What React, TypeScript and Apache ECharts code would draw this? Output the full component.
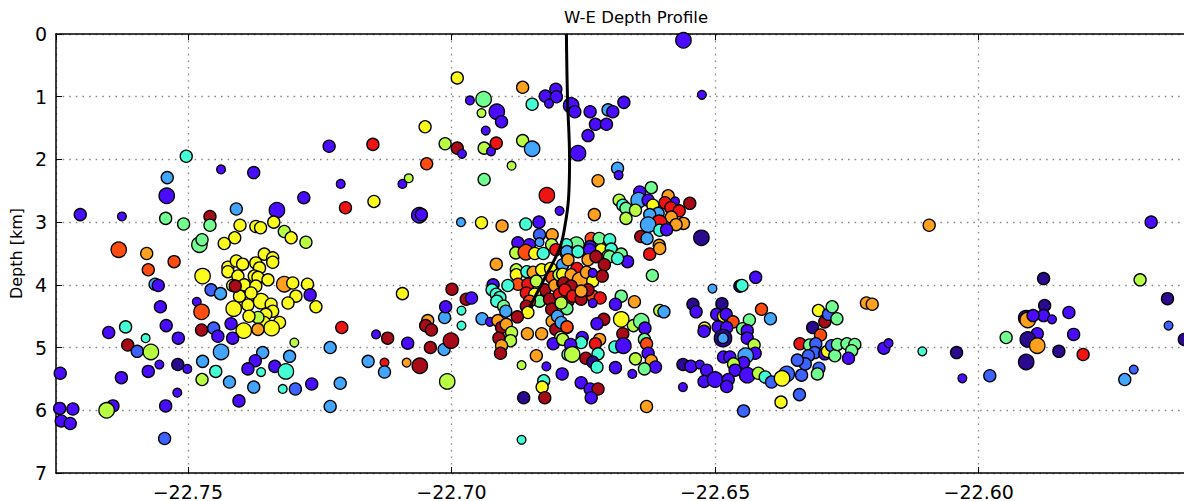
import React, { useEffect, useRef } from 'react';
import * as echarts from 'echarts';

// Axis extents (longitude in degrees, depth in km)
const LON_MIN = -22.775;
const LON_MAX = -22.555;
const DEPTH_MIN = 0;
const DEPTH_MAX = 7;
const DEPTH_TICKS = [0, 1, 2, 3, 4, 5, 6, 7];

const TITLE = 'W-E Depth Profile';
const Y_NAME = 'Depth [km]';

// time-bin colours (jet-like, early = blue, late = dark red)
const timeColors = [
  '#2a0a8e', '#4a0cff', '#3c62ff', '#42a6ff', '#42ffd6', '#72ff92',
  '#b9ff42', '#fbfb1c', '#ffa01e', '#ff4c10', '#ee1414', '#a80a18',
];

// [longitude, depth km, magnitude class, time bin]
const westEvents: number[][] = [
  [-22.7503, 1.95, 2, 4], [-22.7539, 2.29, 2, 3], [-22.7540, 2.58, 3, 1], [-22.7704, 2.88, 2, 1],
  [-22.7625, 2.91, 1, 1], [-22.7542, 2.94, 2, 5], [-22.7508, 3.03, 2, 5], [-22.7631, 3.44, 3, 9],
  [-22.7578, 3.50, 2, 8], [-22.7526, 3.63, 2, 9], [-22.7575, 3.76, 2, 9], [-22.7562, 3.99, 2, 3],
  [-22.7556, 4.01, 2, 1], [-22.7483, 4.27, 1, 1], [-22.7474, 4.43, 3, 9], [-22.7552, 4.35, 2, 1],
  [-22.7650, 4.76, 2, 1], [-22.7618, 4.67, 2, 4], [-22.7541, 4.65, 2, 1], [-22.7580, 4.85, 1, 4],
  [-22.7518, 4.85, 2, 1], [-22.7474, 4.72, 2, 11], [-22.7614, 4.96, 2, 11], [-22.7596, 5.06, 2, 2],
  [-22.7570, 5.07, 3, 6], [-22.7554, 5.27, 1, 1], [-22.7519, 5.27, 2, 0], [-22.7501, 5.34, 1, 1],
  [-22.7575, 5.38, 2, 1], [-22.7626, 5.48, 2, 1], [-22.7742, 5.41, 2, 1], [-22.7472, 5.22, 2, 3],
  [-22.7473, 5.51, 2, 6], [-22.7520, 5.72, 1, 1], [-22.7542, 5.93, 2, 1], [-22.7642, 5.93, 2, 1],
  [-22.7654, 6.00, 3, 6], [-22.7743, 5.97, 2, 1], [-22.7718, 5.98, 2, 1], [-22.7740, 6.17, 2, 1],
  [-22.7723, 6.21, 2, 1], [-22.7544, 6.45, 2, 2], [-22.7478, 3.36, 3, 5], [-22.7473, 3.28, 2, 5],
];

const yellowCluster: number[][] = [
  [-22.7437, 2.16, 1, 1], [-22.7375, 2.21, 2, 1], [-22.7458, 2.91, 2, 11], [-22.7458, 3.05, 2, 5],
  [-22.7408, 2.79, 2, 3], [-22.7401, 3.05, 2, 7], [-22.7411, 3.25, 2, 7], [-22.7431, 3.34, 2, 7],
  [-22.7331, 2.81, 3, 1], [-22.7371, 3.07, 2, 7], [-22.7362, 3.09, 2, 7], [-22.7337, 3.00, 2, 7],
  [-22.7317, 3.15, 2, 6], [-22.7304, 3.25, 2, 7], [-22.7276, 3.32, 2, 6], [-22.7355, 3.51, 2, 7],
  [-22.7339, 3.57, 2, 7], [-22.7424, 3.72, 2, 7], [-22.7408, 3.62, 2, 7], [-22.7396, 3.67, 2, 7],
  [-22.7424, 3.79, 2, 7], [-22.7405, 3.86, 2, 7], [-22.7393, 4.00, 2, 7], [-22.7415, 4.01, 2, 7],
  [-22.7386, 4.32, 2, 7], [-22.7402, 4.18, 2, 7], [-22.7413, 4.38, 3, 7], [-22.7339, 3.64, 2, 7],
  [-22.7371, 3.65, 2, 7], [-22.7364, 3.73, 2, 7], [-22.7374, 3.86, 2, 7], [-22.7367, 3.88, 2, 7],
  [-22.7371, 4.02, 2, 7], [-22.7348, 3.92, 2, 7], [-22.7317, 3.99, 3, 8], [-22.7301, 3.97, 2, 7],
  [-22.7273, 3.99, 2, 7], [-22.7268, 4.16, 2, 1], [-22.7295, 4.18, 2, 7], [-22.7310, 4.29, 2, 7],
  [-22.7257, 4.35, 2, 7], [-22.7361, 4.26, 3, 7], [-22.7342, 4.31, 2, 7], [-22.7339, 4.42, 2, 7],
  [-22.7352, 4.47, 2, 7], [-22.7355, 4.60, 2, 7], [-22.7326, 4.60, 2, 7], [-22.7341, 4.69, 3, 7],
  [-22.7367, 4.52, 2, 6], [-22.7367, 4.71, 2, 8], [-22.7394, 4.73, 3, 7], [-22.7472, 3.86, 3, 7],
  [-22.7456, 4.08, 2, 2], [-22.7438, 4.14, 2, 3], [-22.7410, 4.02, 2, 11], [-22.7380, 4.13, 2, 7],
  [-22.7384, 4.50, 2, 7], [-22.7451, 4.69, 2, 2], [-22.7443, 4.82, 2, 1], [-22.7418, 4.62, 2, 1],
  [-22.7415, 4.85, 2, 1], [-22.7298, 4.92, 1, 6], [-22.7358, 5.08, 2, 3], [-22.7372, 5.21, 2, 1],
  [-22.7307, 5.14, 2, 3], [-22.7335, 5.30, 2, 1], [-22.7314, 5.38, 3, 4], [-22.7361, 5.39, 1, 4],
  [-22.7375, 5.63, 2, 3], [-22.7320, 5.66, 1, 4], [-22.7296, 5.66, 2, 2], [-22.7265, 5.58, 2, 1],
  [-22.7437, 5.07, 3, 3], [-22.7447, 5.38, 2, 4], [-22.7421, 5.55, 2, 3], [-22.7386, 5.34, 2, 1],
  [-22.7403, 5.85, 2, 1],
];

const middleEvents: number[][] = [
  [-22.7211, 5.57, 2, 3], [-22.7230, 5.00, 2, 3], [-22.7208, 4.68, 2, 10], [-22.7230, 5.94, 2, 3],
  [-22.7093, 4.14, 2, 7], [-22.7143, 4.79, 1, 1], [-22.7121, 4.85, 2, 11], [-22.7083, 4.93, 2, 1],
  [-22.7158, 5.22, 2, 3], [-22.7127, 5.24, 1, 10], [-22.7127, 5.39, 2, 3], [-22.7085, 5.24, 1, 8],
  [-22.7060, 5.29, 3, 11], [-22.7045, 4.57, 2, 8], [-22.7049, 4.65, 2, 11], [-22.7038, 4.72, 2, 11],
  [-22.7040, 5.00, 2, 11], [-22.7014, 5.03, 2, 3], [-22.7013, 4.52, 2, 3], [-22.7011, 4.35, 2, 1],
  [-22.6999, 4.07, 2, 11], [-22.6972, 4.23, 2, 11], [-22.6962, 4.21, 2, 1], [-22.6981, 4.41, 1, 4],
  [-22.6981, 4.65, 1, 4], [-22.7001, 4.89, 3, 11], [-22.7008, 5.54, 3, 6], [-22.7232, 1.79, 2, 1],
  [-22.7149, 1.76, 2, 10], [-22.7050, 1.48, 2, 7], [-22.7210, 2.39, 1, 1], [-22.7093, 2.39, 1, 1],
  [-22.7081, 2.30, 1, 6], [-22.7280, 2.61, 2, 1], [-22.7201, 2.77, 2, 10], [-22.7147, 2.67, 2, 7],
  [-22.7061, 2.89, 3, 1], [-22.7047, 2.07, 2, 9], [-22.7057, 2.88, 2, 1],
];

const shallowEvents: number[][] = [
  [-22.6989, 0.70, 2, 7], [-22.6865, 0.85, 2, 8], [-22.6802, 0.88, 2, 1], [-22.6822, 0.99, 2, 1],
  [-22.6801, 1.00, 2, 1], [-22.6815, 1.11, 1, 1], [-22.6847, 1.12, 2, 4], [-22.6965, 1.06, 1, 1],
  [-22.6939, 1.04, 3, 5], [-22.6914, 1.24, 3, 1], [-22.6905, 1.40, 2, 1], [-22.6943, 1.26, 1, 6],
  [-22.6935, 1.54, 1, 1], [-22.7012, 1.75, 2, 6], [-22.6989, 1.82, 2, 11], [-22.6980, 1.91, 1, 1],
  [-22.6938, 1.82, 2, 6], [-22.6925, 1.87, 1, 1], [-22.6915, 1.74, 2, 10], [-22.6865, 1.70, 2, 6],
  [-22.6847, 1.83, 3, 3], [-22.6886, 2.10, 1, 6], [-22.6938, 2.32, 2, 5], [-22.6819, 2.57, 3, 10],
  [-22.6795, 2.82, 1, 1], [-22.6982, 3.00, 1, 3], [-22.6943, 3.01, 2, 7], [-22.6904, 3.06, 2, 8],
  [-22.6859, 3.03, 2, 4], [-22.6834, 3.00, 2, 1], [-22.6833, 3.20, 2, 2], [-22.6809, 3.20, 2, 8],
  [-22.6874, 3.33, 2, 1], [-22.6852, 3.36, 2, 1], [-22.6833, 3.32, 1, 3], [-22.6810, 3.36, 2, 6],
  [-22.6560, 0.10, 3, 1], [-22.6525, 0.97, 1, 1], [-22.6773, 1.14, 3, 1], [-22.6766, 1.24, 2, 1],
  [-22.6737, 1.24, 2, 1], [-22.6703, 1.21, 2, 3], [-22.6694, 1.24, 2, 1], [-22.6673, 1.09, 2, 1],
  [-22.6727, 1.44, 2, 1], [-22.6706, 1.44, 2, 1], [-22.6741, 1.62, 2, 1], [-22.6760, 1.90, 3, 1],
  [-22.6685, 2.14, 2, 3], [-22.6683, 2.25, 1, 1], [-22.6722, 2.34, 2, 8], [-22.6729, 2.88, 2, 8],
];

const eastShallowCluster: number[][] = [
  [-22.6621, 2.45, 2, 5], [-22.6643, 2.52, 2, 1], [-22.6682, 2.65, 2, 6], [-22.6675, 2.73, 2, 4],
  [-22.6669, 2.78, 2, 5], [-22.6645, 2.65, 3, 3], [-22.6651, 2.81, 2, 6], [-22.6669, 2.94, 2, 6],
  [-22.6627, 2.65, 2, 1], [-22.6618, 2.73, 2, 7], [-22.6589, 2.58, 2, 8], [-22.6595, 2.69, 2, 10],
  [-22.6576, 2.67, 1, 1], [-22.6584, 2.77, 2, 10], [-22.6568, 2.82, 2, 10], [-22.6548, 2.70, 2, 11],
  [-22.6608, 2.86, 2, 3], [-22.6624, 2.88, 2, 3], [-22.6583, 2.92, 2, 8], [-22.6560, 3.02, 2, 8],
  [-22.6574, 3.04, 2, 8], [-22.6606, 3.01, 3, 10], [-22.6627, 3.04, 3, 3], [-22.6605, 3.13, 2, 4],
  [-22.6592, 3.12, 2, 1], [-22.6526, 3.25, 3, 0], [-22.6641, 3.23, 2, 11], [-22.6629, 3.26, 2, 3],
  [-22.6606, 3.37, 2, 8], [-22.6624, 3.51, 2, 10], [-22.6605, 3.42, 2, 8],
];

const wellCluster: number[][] = [
  [-22.6735, 3.26, 2, 9], [-22.6720, 3.26, 2, 5], [-22.6700, 3.28, 2, 4], [-22.6737, 3.39, 2, 1],
  [-22.6716, 3.44, 2, 7], [-22.6697, 3.43, 2, 4], [-22.6678, 3.51, 2, 5], [-22.6763, 3.36, 3, 5],
  [-22.6782, 3.36, 2, 4], [-22.6777, 3.49, 2, 2], [-22.6729, 3.54, 2, 11], [-22.6703, 3.54, 2, 7],
  [-22.6666, 3.63, 2, 1], [-22.6619, 3.85, 2, 5], [-22.6700, 3.55, 2, 5], [-22.6685, 3.58, 2, 4],
  [-22.6878, 3.49, 2, 6], [-22.6859, 3.48, 3, 9], [-22.6842, 3.50, 2, 7], [-22.6826, 3.50, 2, 4],
  [-22.6802, 3.44, 2, 10], [-22.6915, 3.67, 2, 8], [-22.6877, 3.76, 2, 6], [-22.6877, 3.84, 2, 7],
  [-22.6857, 3.79, 2, 4], [-22.6845, 3.80, 2, 8], [-22.6829, 3.76, 2, 7], [-22.6812, 3.74, 2, 7],
  [-22.6789, 3.68, 2, 3], [-22.6782, 3.50, 2, 3], [-22.6874, 3.99, 2, 9], [-22.6855, 3.99, 2, 10],
  [-22.6893, 4.01, 2, 4], [-22.6839, 3.94, 2, 6], [-22.6823, 4.08, 2, 11], [-22.6810, 3.88, 2, 9],
  [-22.6804, 4.01, 2, 8], [-22.6789, 3.97, 2, 11], [-22.6796, 3.84, 2, 6], [-22.6858, 4.13, 2, 10],
  [-22.6842, 4.15, 2, 7], [-22.6833, 4.26, 2, 5], [-22.6814, 4.23, 2, 11], [-22.6810, 4.39, 2, 11],
  [-22.6789, 4.34, 2, 6], [-22.6779, 4.26, 2, 11], [-22.6795, 4.15, 2, 10], [-22.6852, 4.26, 2, 9],
  [-22.6858, 4.34, 2, 11], [-22.6855, 4.44, 2, 7], [-22.6809, 4.58, 2, 8], [-22.6802, 4.71, 2, 11],
  [-22.6781, 4.68, 2, 10], [-22.6793, 4.84, 2, 6], [-22.6807, 4.94, 2, 1], [-22.6779, 5.11, 2, 5],
  [-22.6799, 4.50, 2, 3], [-22.6921, 4.00, 2, 1], [-22.6923, 4.08, 2, 4], [-22.6915, 4.15, 2, 4],
  [-22.6908, 4.20, 2, 4], [-22.6914, 4.26, 2, 4], [-22.6901, 4.34, 2, 5], [-22.6897, 4.42, 2, 3],
  [-22.6875, 4.51, 2, 11], [-22.6856, 4.78, 2, 8], [-22.6829, 4.78, 2, 8], [-22.6839, 5.13, 2, 8],
  [-22.6867, 5.28, 1, 6], [-22.6820, 5.30, 1, 1], [-22.6825, 5.53, 2, 4], [-22.6828, 5.63, 2, 7],
  [-22.6823, 5.80, 2, 11], [-22.6863, 5.80, 2, 0], [-22.6867, 6.47, 1, 4], [-22.6942, 4.54, 2, 3],
  [-22.6927, 4.59, 1, 1], [-22.6912, 4.57, 2, 8], [-22.6905, 4.68, 2, 11], [-22.6896, 4.63, 2, 8],
  [-22.6886, 4.76, 2, 6], [-22.6888, 4.89, 2, 6], [-22.6910, 4.85, 2, 11], [-22.6905, 4.97, 2, 8],
  [-22.6907, 5.09, 2, 11],
  [-22.6781, 3.47, 2, 3], [-22.6760, 3.47, 2, 4], [-22.6738, 3.44, 2, 1], [-22.6779, 3.60, 2, 8],
  [-22.6762, 3.74, 2, 10], [-22.6741, 3.60, 2, 8], [-22.6726, 3.55, 2, 11], [-22.6710, 3.68, 2, 11],
  [-22.6789, 3.83, 2, 7], [-22.6773, 3.84, 2, 8], [-22.6756, 3.92, 3, 8], [-22.6744, 3.80, 2, 8],
  [-22.6732, 3.94, 2, 7], [-22.6714, 3.86, 2, 11], [-22.6732, 3.81, 1, 1], [-22.6787, 3.97, 2, 11],
  [-22.6773, 4.02, 2, 11], [-22.6785, 4.08, 2, 10], [-22.6770, 4.18, 2, 10], [-22.6754, 4.23, 2, 11],
  [-22.6732, 4.18, 2, 9], [-22.6718, 4.21, 2, 10], [-22.6741, 4.08, 2, 11], [-22.6754, 4.10, 2, 8],
  [-22.6732, 4.29, 1, 1], [-22.6781, 4.38, 2, 5], [-22.6792, 4.29, 2, 6], [-22.6792, 4.60, 2, 3],
  [-22.6781, 4.67, 2, 9], [-22.6789, 4.87, 2, 6],
];

const wellDeepEvents: number[][] = [
  [-22.6678, 4.18, 2, 5], [-22.6689, 4.31, 2, 1], [-22.6653, 4.27, 2, 8], [-22.6605, 4.41, 2, 6],
  [-22.6597, 4.43, 2, 3], [-22.6678, 4.55, 3, 7], [-22.6655, 4.65, 2, 6], [-22.6640, 4.58, 3, 5],
  [-22.6633, 4.69, 2, 1], [-22.6711, 4.55, 2, 11], [-22.6724, 4.62, 2, 1], [-22.6675, 4.78, 2, 11],
  [-22.6719, 4.87, 2, 8], [-22.6727, 4.94, 2, 10], [-22.6752, 4.84, 2, 1], [-22.6754, 4.92, 2, 4],
  [-22.6774, 4.95, 2, 1], [-22.6690, 4.99, 2, 4], [-22.6674, 4.97, 3, 1], [-22.6634, 4.87, 2, 5],
  [-22.6630, 4.94, 2, 9], [-22.6627, 5.09, 2, 1], [-22.6621, 5.21, 2, 8], [-22.6613, 5.31, 2, 1],
  [-22.6634, 5.34, 2, 5], [-22.6651, 5.18, 2, 6], [-22.6657, 5.42, 1, 1], [-22.6689, 5.32, 2, 1],
  [-22.6771, 5.11, 3, 6], [-22.6745, 5.17, 2, 11], [-22.6722, 5.10, 2, 4], [-22.6732, 5.23, 2, 0],
  [-22.6724, 5.31, 2, 4], [-22.6790, 5.42, 2, 1], [-22.6754, 5.56, 2, 1], [-22.6737, 5.66, 2, 1],
  [-22.6722, 5.66, 2, 11], [-22.6735, 5.80, 2, 1], [-22.6630, 5.94, 2, 8], [-22.6561, 5.27, 2, 0],
  [-22.6546, 5.30, 2, 1], [-22.6529, 5.27, 1, 1], [-22.6516, 5.36, 2, 1], [-22.6561, 5.63, 1, 1],
  [-22.6521, 5.54, 2, 1], [-22.6500, 5.51, 3, 1], [-22.6505, 4.06, 1, 3], [-22.6542, 4.31, 2, 0],
  [-22.6536, 4.43, 2, 1], [-22.6520, 4.69, 2, 7], [-22.6521, 4.74, 2, 1],
];

const eastEvents: number[][] = [
  [-22.6453, 4.02, 2, 0], [-22.6449, 4.01, 2, 4], [-22.6423, 3.88, 2, 1], [-22.6487, 4.30, 2, 0],
  [-22.6497, 4.47, 2, 1], [-22.6484, 4.50, 2, 7], [-22.6479, 4.47, 2, 1], [-22.6466, 4.59, 2, 9],
  [-22.6435, 4.56, 2, 5], [-22.6412, 4.39, 2, 9], [-22.6395, 4.54, 2, 3], [-22.6494, 4.67, 2, 1],
  [-22.6478, 4.68, 2, 1], [-22.6448, 4.70, 2, 5], [-22.6439, 4.73, 2, 1], [-22.6439, 4.85, 2, 1],
  [-22.6485, 4.85, 3.6, 0], [-22.6485, 4.85, 1.5, 3], [-22.6426, 4.96, 2, 6], [-22.6424, 5.09, 2, 1],
  [-22.6442, 5.13, 3, 3], [-22.6484, 5.15, 2, 1], [-22.6472, 5.15, 2, 1], [-22.6446, 5.24, 2, 1],
  [-22.6465, 5.26, 2, 6], [-22.6462, 5.36, 2, 1], [-22.6475, 5.51, 2, 1], [-22.6478, 5.62, 2, 1],
  [-22.6439, 5.44, 3, 1], [-22.6418, 5.41, 2, 6], [-22.6405, 5.47, 2, 4], [-22.6393, 5.55, 2, 2],
  [-22.6364, 5.42, 3, 2], [-22.6373, 5.49, 3, 7], [-22.6375, 5.87, 2, 7], [-22.6340, 5.75, 2, 2],
  [-22.6446, 6.01, 2, 2], [-22.6336, 5.44, 2, 2], [-22.6315, 4.68, 2, 0], [-22.6292, 4.59, 2, 11],
  [-22.6300, 4.80, 2, 9], [-22.6304, 4.41, 2, 7], [-22.6285, 4.47, 2, 2], [-22.6278, 4.35, 2, 5],
  [-22.6269, 4.54, 2, 5], [-22.6339, 4.94, 2, 10], [-22.6321, 4.96, 2, 5], [-22.6309, 4.94, 2, 2],
  [-22.6311, 5.08, 2, 2], [-22.6323, 5.13, 2, 2], [-22.6329, 5.26, 2, 2], [-22.6344, 5.20, 2, 2],
  [-22.6292, 5.10, 2, 1], [-22.6287, 5.06, 2, 7], [-22.6279, 4.97, 2, 2], [-22.6273, 5.13, 2, 5],
  [-22.6268, 4.95, 2, 5], [-22.6250, 4.94, 2, 5], [-22.6235, 4.95, 2, 5], [-22.6241, 5.05, 2, 5],
  [-22.6247, 5.17, 2, 1], [-22.6303, 5.33, 2, 2], [-22.6306, 5.42, 2, 5], [-22.6213, 4.29, 2, 8],
  [-22.6202, 4.31, 2, 8], [-22.6180, 5.01, 2, 1], [-22.6171, 4.93, 1, 1], [-22.6107, 5.06, 1, 4],
  [-22.6094, 3.05, 2, 8],
];

const farEastEvents: number[][] = [
  [-22.5877, 3.90, 2, 0], [-22.5694, 3.92, 2, 6], [-22.5642, 4.22, 2, 0], [-22.5640, 4.65, 1, 2],
  [-22.5610, 4.87, 2, 0], [-22.5875, 4.33, 2, 0], [-22.5877, 4.49, 2, 1], [-22.5861, 4.55, 1, 1],
  [-22.5829, 4.44, 2, 1], [-22.5910, 4.53, 3, 0], [-22.5907, 4.56, 3, 8], [-22.5897, 4.49, 2, 1],
  [-22.5889, 4.78, 2, 1], [-22.5907, 4.87, 3, 0], [-22.5889, 4.97, 3, 8], [-22.5948, 4.84, 2, 5],
  [-22.5820, 4.79, 2, 1], [-22.5848, 5.06, 2, 0], [-22.5802, 5.11, 2, 10], [-22.5910, 5.23, 3, 0],
  [-22.6042, 5.08, 2, 0], [-22.6031, 5.49, 1, 1], [-22.5979, 5.45, 2, 2], [-22.5706, 5.35, 1, 2],
  [-22.5723, 5.51, 2, 3], [-22.5673, 3.00, 2, 1],
];

// well trajectory [longitude, depth km]
const wellTrack: number[][] = [
  [-22.6782, 0.0], [-22.6780, 1.0], [-22.6776, 2.01], [-22.6778, 2.63],
  [-22.6785, 3.07], [-22.6795, 3.42], [-22.6823, 3.89], [-22.6852, 4.36],
];

const fmtLon = (v: number) => v.toFixed(2).replace('-', '\u2212');

export default function App() {
  const ref = useRef<HTMLDivElement>(null);
  useEffect(() => {
    if (!ref.current) return;
    const chart = echarts.init(ref.current, null, { renderer: 'svg' });
    const events = [
      ...westEvents, ...yellowCluster, ...middleEvents, ...shallowEvents,
      ...eastShallowCluster, ...wellCluster, ...wellDeepEvents, ...eastEvents, ...farEastEvents,
    ];
    const font = 'DejaVu Sans';
    chart.setOption({
      animation: false,
      backgroundColor: '#ffffff',
      textStyle: { fontFamily: font },
      graphic: [
        {
          type: 'text', x: 636, y: 9,
          style: { text: TITLE, textAlign: 'center', fontSize: 16.5, fill: '#000', fontFamily: font },
        },
      ],
      grid: { left: 55, right: 24, top: 34, bottom: 24, containLabel: false },
      xAxis: [
        {
          type: 'value', min: LON_MIN, max: LON_MAX, splitNumber: 5,
          axisLine: { show: true, onZero: false, lineStyle: { color: '#000', width: 1.5 } },
          axisTick: { show: true, inside: true, length: 6, lineStyle: { color: '#000' } },
          axisLabel: {
            formatter: fmtLon, showMinLabel: false, showMaxLabel: false,
            fontSize: 19, color: '#000', margin: 9, fontFamily: font,
          },
          splitLine: { show: true, lineStyle: { color: '#8a8a8a', type: [1.6, 5], width: 1.3 } },
        },
        {
          type: 'value', position: 'top', min: LON_MIN, max: LON_MAX, splitNumber: 5,
          axisLine: { show: true, onZero: false, lineStyle: { color: '#000', width: 1.5 } },
          axisTick: { show: true, inside: true, length: 6, lineStyle: { color: '#000' } },
          axisLabel: { show: false },
          splitLine: { show: false },
        },
      ],
      yAxis: {
        type: 'value', inverse: true, min: DEPTH_MIN, max: DEPTH_MAX, interval: 1,
        name: Y_NAME, nameLocation: 'middle', nameGap: 32, nameRotate: 90,
        nameTextStyle: { fontSize: 16, color: '#000', fontFamily: font },
        axisLine: { show: true, onZero: false, lineStyle: { color: '#000', width: 1.5 } },
        axisTick: { show: true, inside: true, length: 6, lineStyle: { color: '#000' } },
        axisLabel: {
          fontSize: 19, color: '#000', margin: 9, fontFamily: font,
          formatter: (v: number) => (DEPTH_TICKS.includes(v) ? String(v) : ''),
        },
        splitLine: { show: true, lineStyle: { color: '#8a8a8a', type: [1.6, 5], width: 1.3 } },
      },
      series: [
        {
          type: 'scatter',
          data: events,
          encode: { x: 0, y: 1 },
          symbolSize: (v: number[]) => 5.5 + v[2] * 3.3,
          itemStyle: {
            color: (p: any) => timeColors[p.value[3]],
            borderColor: '#000', borderWidth: 1.3, opacity: 1,
          },
          z: 2,
        },
        {
          type: 'line',
          data: wellTrack,
          showSymbol: false,
          smooth: 0.4,
          lineStyle: { color: '#000', width: 3 },
          z: 3,
        },
      ],
    });
    return () => chart.dispose();
  }, []);
  return (
    <div style={{ position: 'fixed', left: 0, top: 0, width: 1184, height: 501, overflow: 'hidden', background: '#fff' }}>
      <div ref={ref} style={{ width: 1240, height: 501 }} />
    </div>
  );
}
